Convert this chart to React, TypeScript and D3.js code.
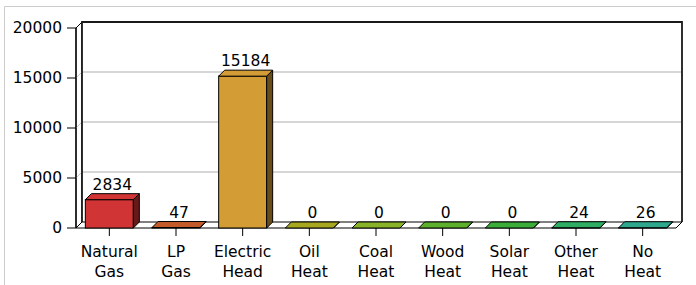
import React from "react";
import * as d3 from "d3";

const categories = ["Natural Gas", "LP Gas", "Electric Head", "Oil Heat", "Coal Heat", "Wood Heat", "Solar Heat", "Other Heat", "No Heat"];
const values = [2834, 47, 15184, 0, 0, 0, 0, 24, 26];
const colors = ["#d13434", "#c45a2a", "#d49c34", "#a8a820", "#8ab428", "#5cb02c", "#3aae38", "#2eae62", "#2ea88c"];
const yTicks = [0, 5000, 10000, 15000, 20000];

const W = 696, H = 285;
const X0 = 76, X1 = 676, Y0 = 228, Y1 = 28, D = 6;
const FONT = "'DejaVu Sans', sans-serif";

export default function App() {
  const x = d3.scaleBand<string>().domain(categories).range([X0, X1]).padding(0);
  const y = d3.scaleLinear().domain([0, 20000]).range([Y0, Y1]);
  const bw = x.bandwidth() * 0.72;

  return (
    <svg width={W} height={H} style={{ position: "absolute", left: 0, top: 0, background: "#fff" }}>
      {/* outer frame */}
      <line x1={4.5} y1={6.5} x2={W} y2={6.5} stroke="#cccccc" />
      <line x1={4.5} y1={6.5} x2={4.5} y2={H} stroke="#cccccc" />

      {/* left wall */}
      <polygon points={`${X0},${Y1} ${X0 + D},${Y1 - D} ${X0 + D},${Y0 - D} ${X0},${Y0}`} fill="#fff" stroke="#000" />
      {/* back wall */}
      <rect x={X0 + D} y={Y1 - D} width={X1 - X0} height={Y0 - Y1} fill="#fff" />
      {/* gridlines */}
      {yTicks.filter(t => t > 0 && t < 20000).map(t => (
        <g key={t}>
          <line x1={X0} y1={y(t)} x2={X0 + D} y2={y(t) - D} stroke="#c8c8c8" />
          <line x1={X0 + D} y1={y(t) - D} x2={X1 + D} y2={y(t) - D} stroke="#c8c8c8" strokeWidth={1.5} />
        </g>
      ))}
      {/* back wall border */}
      <polyline points={`${X0 + D},${Y0 - D} ${X0 + D},${Y1 - D} ${X1 + D},${Y1 - D} ${X1 + D},${Y0 - D}`} fill="none" stroke="#1a1a1a" strokeWidth={1.8} />
      <line x1={X0} y1={Y1} x2={X0} y2={Y0} stroke="#000" strokeWidth={1.3} />

      {/* floor */}
      <polygon points={`${X0},${Y0} ${X1},${Y0} ${X1 + D},${Y0 - D} ${X0 + D},${Y0 - D}`} fill="#fff" stroke="#000" />

      {/* y ticks */}
      {yTicks.map(t => (
        <g key={t}>
          <line x1={67} y1={y(t)} x2={X0} y2={y(t)} stroke="#000" />
          <text x={62} y={y(t)} dominantBaseline="central" textAnchor="end" fontFamily={FONT} fontSize={15.5} fill="#000">{t}</text>
        </g>
      ))}

      {/* bars */}
      {categories.map((c, i) => {
        const cx = x(c)! + x.bandwidth() / 2;
        const l = cx - bw / 2, r = cx + bw / 2;
        const top = y(values[i]);
        const col = colors[i];
        const side = d3.color(col)!.darker(2).toString();
        return (
          <g key={c}>
            <rect x={l} y={top} width={bw} height={Y0 - top} fill={col} stroke="#000" />
            <polygon points={`${r},${Y0} ${r + D},${Y0 - D} ${r + D},${top - D} ${r},${top}`} fill={side} stroke="#000" />
            <polygon points={`${l},${top} ${r},${top} ${r + D},${top - D} ${l + D},${top - D}`} fill={col} stroke="#000" />
            <text x={cx + D / 2} y={top - D - 4} textAnchor="middle" fontFamily={FONT} fontSize={15.5} fill="#000">{values[i]}</text>
            <line x1={cx} y1={Y0} x2={cx} y2={236} stroke="#000" />
            {c.split(" ").map((w, k) => (
              <text key={k} x={cx} y={257 + k * 20} textAnchor="middle" fontFamily={FONT} fontSize={15.5} fill="#000">{w}</text>
            ))}
          </g>
        );
      })}
    </svg>
  );
}
